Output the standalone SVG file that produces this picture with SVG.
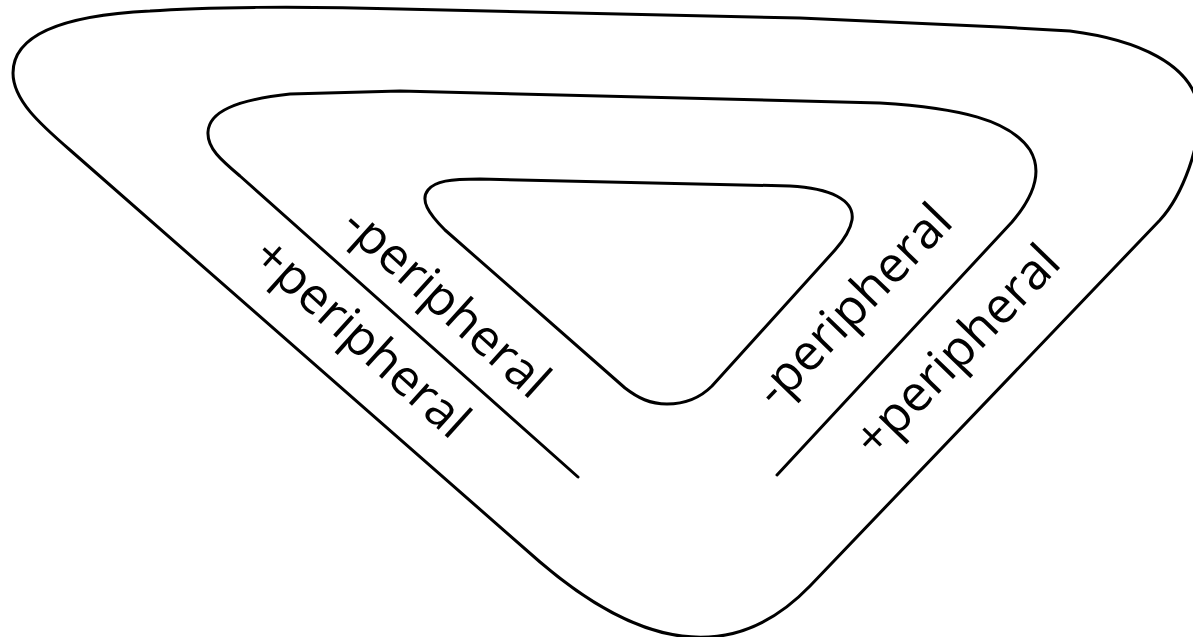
<svg xmlns="http://www.w3.org/2000/svg" width="1193" height="637" viewBox="0 0 1193 637">
  <style>
    .band { fill: none; stroke: #000; stroke-width: 3; stroke-linejoin: round; stroke-linecap: round; }
    .lbl { font-family: "Open Sans", "Noto Sans", "Liberation Sans", sans-serif; font-size: 50px; fill: #000; text-anchor: end; }
  </style>
  <rect width="1193" height="637" fill="#fff"/>

  <!-- outer closed boundary -->
  <g id="outer">
    <path class="band" d="M 540,562 C 631,640 727,672 810,586 L 1160,220 C 1181,197 1203,145 1198,105 C 1190,65 1140,40 1070,31 L 1000,27 L 800,18 L 400,9 C 300,6 200,7 150,11 C 50,16 13,40 13,73 C 13,100 40,124 70,150 Z"/>
  </g>

  <!-- middle boundary, open at the bottom -->
  <g id="middle">
    <path class="band" d="M 578,477 L 240,176 C 221,160 207,148 208,132 C 209,112 235,100 290,94 L 400,91 L 880,103 C 960,108 1010,120 1030,150 C 1042,170 1035,195 1012,222 L 777,475"/>
  </g>

  <!-- inner closed boundary -->
  <g id="inner">
    <path class="band" d="M 445,230 C 428,213 420,200 428,190 C 435,181 450,179 480,179 L 790,186 C 830,188 855,200 852,220 C 850,232 842,242 835,250 L 712,386 C 700,398 685,404 667,404 C 650,404 638,398 625,388 Z"/>
  </g>

  <!-- labels along the bands -->
  <g id="labels">
    <text class="lbl" transform="translate(531,401) rotate(42)">-peripheral</text>
    <text class="lbl" transform="translate(451,441) rotate(42)">+peripheral</text>
    <text class="lbl" transform="translate(955,224) rotate(-46)">-peripheral</text>
    <text class="lbl" transform="translate(1063,265) rotate(-46)">+peripheral</text>
  </g>
</svg>
